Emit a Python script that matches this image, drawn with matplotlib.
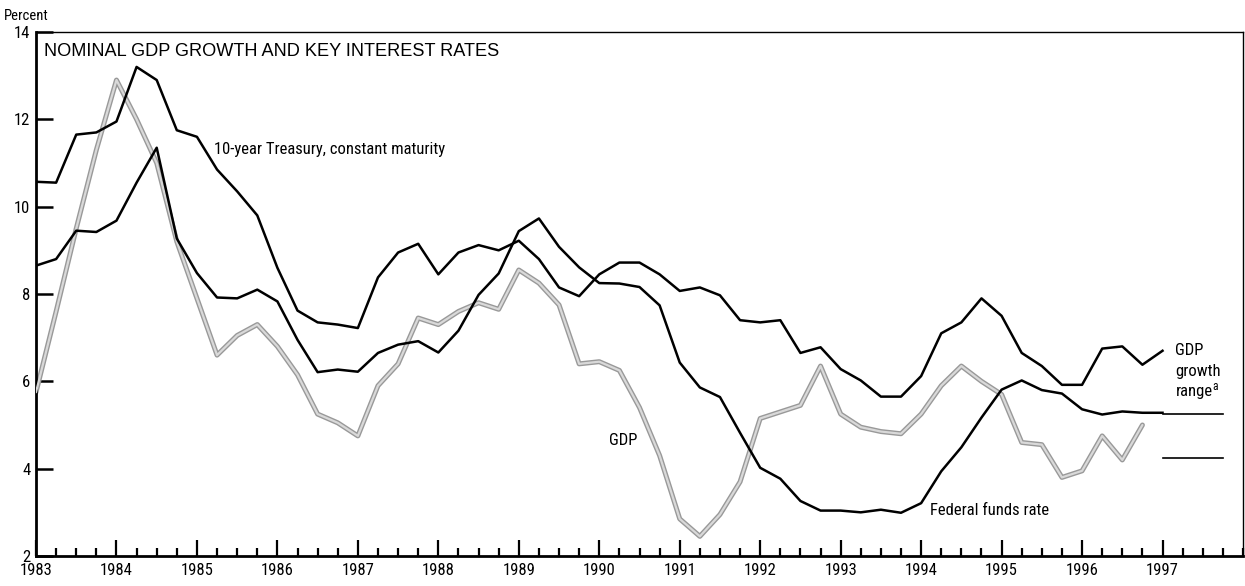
import matplotlib
matplotlib.use("Agg")
import matplotlib.pyplot as plt
from matplotlib import font_manager
from matplotlib.ticker import MultipleLocator, FixedLocator
import numpy as np

# ---------------- data (quarterly, first point at 1983.0) ----------------
start_year = 1983.0

treasury_10y = [10.57, 10.55, 11.65, 11.70,
                11.95, 13.20, 12.90, 11.75,
                11.60, 10.85, 10.35, 9.80,
                8.60, 7.62, 7.35, 7.30,
                7.22, 8.38, 8.95, 9.15,
                8.45, 8.95, 9.12, 9.00,
                9.22, 8.80, 8.15, 7.95,
                8.45, 8.72, 8.72, 8.45,
                8.07, 8.15, 7.97, 7.40,
                7.35, 7.40, 6.65, 6.78,
                6.28, 6.02, 5.65, 5.65,
                6.12, 7.10, 7.35, 7.90,
                7.50, 6.65, 6.35, 5.92,
                5.92, 6.75, 6.80, 6.38,
                6.70]

fed_funds = [8.65, 8.80, 9.45, 9.42,
             9.68, 10.55, 11.35, 9.27,
             8.48, 7.92, 7.90, 8.10,
             7.83, 6.95, 6.21, 6.27,
             6.22, 6.65, 6.84, 6.92,
             6.66, 7.16, 7.98, 8.47,
             9.44, 9.73, 9.08, 8.61,
             8.25, 8.24, 8.16, 7.74,
             6.43, 5.86, 5.64, 4.82,
             4.02, 3.77, 3.26, 3.04,
             3.04, 3.00, 3.06, 2.99,
             3.21, 3.94, 4.49, 5.17,
             5.81, 6.02, 5.80, 5.72,
             5.36, 5.24, 5.31, 5.28,
             5.28]

gdp_growth = [5.75, 7.60, 9.50, 11.30,
              12.90, 12.00, 11.00, 9.20,
              7.90, 6.60, 7.05, 7.30,
              6.80, 6.15, 5.25, 5.05,
              4.75, 5.90, 6.40, 7.45,
              7.30, 7.60, 7.80, 7.65,
              8.55, 8.25, 7.75, 6.40,
              6.45, 6.25, 5.40, 4.30,
              2.85, 2.45, 2.95, 3.70,
              5.15, 5.30, 5.45, 6.35,
              5.25, 4.95, 4.85, 4.80,
              5.25, 5.90, 6.35, 6.00,
              5.70, 4.60, 4.55, 3.80,
              3.95, 4.75, 4.20, 5.00]

range_years = [1997.0, 1997.75]
gdp_range_low = 4.25
gdp_range_high = 5.25

year_labels = ["1983", "1984", "1985", "1986", "1987", "1988", "1989",
               "1990", "1991", "1992", "1993", "1994", "1995", "1996", "1997"]
y_ticks = [2, 4, 6, 8, 10, 12, 14]

# ---------------- fonts ----------------
def _w(f):
    w = f.weight
    if isinstance(w, str):
        w = {"normal": 400, "regular": 400, "book": 400, "light": 300,
             "medium": 500}.get(w.lower(), 700)
    return w

ttf = font_manager.fontManager.ttflist
available = {f.name for f in ttf}
NARROW_STRETCH = "normal"
narrow_choice = None
for cand in ["Liberation Sans Narrow", "Roboto Condensed", "DejaVu Sans Condensed",
             "Open Sans Condensed", "Noto Sans Condensed"]:
    if cand in available:
        narrow_choice = cand
        break
if narrow_choice is None:
    cond = [f for f in ttf
            if f.stretch in ("condensed", "semi-condensed", "extra-condensed")
            and f.style == "normal"]
    cond.sort(key=lambda f: abs(_w(f) - 400))
    if cond:
        narrow_choice = cond[0].name
        NARROW_STRETCH = cond[0].stretch
    else:
        narrow_choice = "Roboto" if "Roboto" in available else "DejaVu Sans"
NARROW = [narrow_choice, "DejaVu Sans"]
WIDE = ["Liberation Sans", "DejaVu Sans"]
NSCALE = 1.0 if narrow_choice not in ("Roboto", "DejaVu Sans") else 0.9
NWEIGHT = "normal"

# ---------------- figure ----------------
W, H = 1245, 586
fig = plt.figure(figsize=(W / 100, H / 100), dpi=100)
fig.patch.set_facecolor("white")
ax = fig.add_axes([36 / W, 30 / H, (1243 - 36) / W, (556 - 32) / H])

def qx(n):
    return start_year + 0.25 * np.arange(n)

x_t = qx(len(treasury_10y))
x_f = qx(len(fed_funds))
x_g = qx(len(gdp_growth))

ax.plot(x_g, gdp_growth, color="#999999", lw=3.6, solid_joinstyle="round",
        solid_capstyle="round", zorder=2)
ax.plot(x_g, gdp_growth, color="#d9d9d9", lw=1.6, solid_joinstyle="round",
        solid_capstyle="round", zorder=3)

ax.plot(x_t, treasury_10y, color="black", lw=1.8, zorder=4)
ax.plot(x_f, fed_funds, color="black", lw=1.8, zorder=4)

ax.plot(range_years, [gdp_range_high] * 2, color="black", lw=1.2, zorder=4)
ax.plot(range_years, [gdp_range_low] * 2, color="black", lw=1.2, zorder=4)

ax.set_xlim(1983, 1998)
ax.set_ylim(2, 14)

for side in ("left", "bottom"):
    ax.spines[side].set_linewidth(2.0)
for side in ("top", "right"):
    ax.spines[side].set_linewidth(1.0)

ax.xaxis.set_major_locator(FixedLocator([1983 + i for i in range(len(year_labels))]))
ax.set_xticklabels(year_labels)
ax.xaxis.set_minor_locator(MultipleLocator(0.25))
ax.set_yticks(y_ticks)
ax.set_yticklabels([str(v) for v in y_ticks])

ax.tick_params(axis="x", which="major", direction="in", length=11.5, width=1.6,
               pad=5, labelsize=12 * NSCALE)
ax.tick_params(axis="x", which="minor", direction="in", length=5.8, width=1.6)
ax.tick_params(axis="y", which="major", direction="in", length=12, width=1.8,
               pad=4, labelsize=12 * NSCALE)
for lab in ax.get_xticklabels() + ax.get_yticklabels():
    lab.set_family(NARROW)
    lab.set_stretch(NARROW_STRETCH)
    lab.set_weight(NWEIGHT)

def ntext(x, y, s, size=12.0, **kw):
    return ax.text(x, y, s, family=NARROW, stretch=NARROW_STRETCH,
                   weight=NWEIGHT, fontsize=size * NSCALE, **kw)

fig.text(4 / W, 1 - 16 / H, "Percent", family=NARROW, stretch=NARROW_STRETCH,
         weight=NWEIGHT, fontsize=10.5 * NSCALE, ha="left", va="center")
ax.text(1983.1, 13.55, "NOMINAL GDP GROWTH AND KEY INTEREST RATES",
        family=WIDE, fontsize=13.1, ha="left", va="center")
ntext(1985.21, 11.3, "10-year Treasury, constant maturity", ha="left", va="center")
ntext(1990.12, 4.65, "GDP", ha="left", va="center")
ntext(1994.11, 3.05, "Federal funds rate", ha="left", va="center")
ntext(1997.16, 6.70, "GDP", ha="left", va="center")
ntext(1997.16, 6.22, "growth", ha="left", va="center")
rng = ntext(1997.16, 5.76, "range", ha="left", va="center")

fig.canvas.draw()
bb = rng.get_window_extent(renderer=fig.canvas.get_renderer())
x_after = ax.transData.inverted().transform((bb.x1 - 0.5, bb.y1))[0]
ntext(x_after, 5.88, "a", size=8.5, ha="left", va="center")

fig.savefig("out.png", dpi=100, facecolor="white")
